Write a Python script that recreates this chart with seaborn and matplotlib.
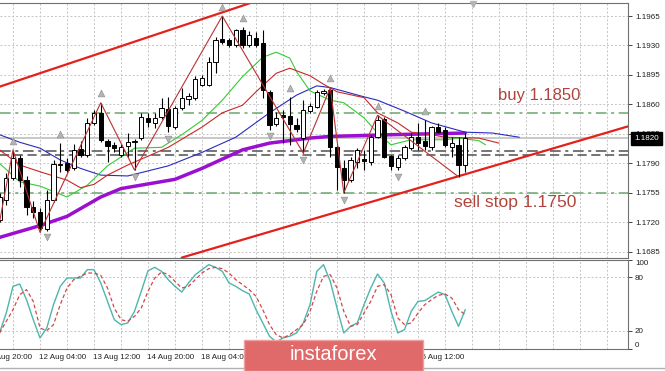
import matplotlib
matplotlib.use("Agg")
import matplotlib.pyplot as plt
import matplotlib.transforms as mtransforms
from matplotlib.patches import Rectangle
import numpy as np
import pandas as pd
import seaborn as sns

# H4 bars, index 0 = 10 Aug 20:00
bars = list(range(2, 72))
opens = [1.1723, 1.1746, 1.1772, 1.1796, 1.1770, 1.1738, 1.1732, 1.1712, 1.1746, 1.1788,
         1.1790, 1.1784, 1.1807, 1.1800, 1.1838, 1.1850, 1.1817, 1.1812, 1.1800, 1.1811,
         1.1815, 1.1820, 1.1844, 1.1838, 1.1845, 1.1855, 1.1833, 1.1856, 1.1866, 1.1868,
         1.1883, 1.1883, 1.1910, 1.1938, 1.1937, 1.1931, 1.1948, 1.1931, 1.1939, 1.1933,
         1.1875, 1.1837, 1.1847, 1.1846, 1.1836, 1.1820, 1.1852, 1.1857, 1.1874, 1.1877,
         1.1809, 1.1784, 1.1770, 1.1792, 1.1795, 1.1792, 1.1821, 1.1843, 1.1799, 1.1786,
         1.1796, 1.1808, 1.1821, 1.1817, 1.1809, 1.1833, 1.1830, 1.1809, 1.1812, 1.1788]
highs = [1.1755, 1.1779, 1.1806, 1.1800, 1.1775, 1.1745, 1.1737, 1.1758, 1.1794, 1.1814,
         1.1796, 1.1813, 1.1817, 1.1844, 1.1853, 1.1862, 1.1819, 1.1815, 1.1813, 1.1826,
         1.1819, 1.1850, 1.1850, 1.1850, 1.1868, 1.1869, 1.1858, 1.1880, 1.1874, 1.1894,
         1.1895, 1.1916, 1.1940, 1.1965, 1.1939, 1.1950, 1.1952, 1.1947, 1.1946, 1.1948,
         1.1877, 1.1851, 1.1853, 1.1869, 1.1844, 1.1865, 1.1862, 1.1877, 1.1878, 1.1880,
         1.1812, 1.1794, 1.1798, 1.1808, 1.1806, 1.1824, 1.1847, 1.1845, 1.1800, 1.1800,
         1.1812, 1.1826, 1.1838, 1.1841, 1.1834, 1.1838, 1.1833, 1.1821, 1.1821, 1.1826]
lows = [1.1720, 1.1740, 1.1770, 1.1762, 1.1729, 1.1725, 1.1708, 1.1710, 1.1744, 1.1780,
        1.1780, 1.1782, 1.1798, 1.1798, 1.1836, 1.1815, 1.1792, 1.1803, 1.1798, 1.1798,
        1.1782, 1.1818, 1.1833, 1.1832, 1.1843, 1.1827, 1.1831, 1.1853, 1.1859, 1.1865,
        1.1882, 1.1882, 1.1897, 1.1932, 1.1928, 1.1928, 1.1927, 1.1928, 1.1928, 1.1868,
        1.1830, 1.1834, 1.1814, 1.1812, 1.1827, 1.1802, 1.1850, 1.1856, 1.1871, 1.1798,
        1.1758, 1.1755, 1.1768, 1.1784, 1.1782, 1.1788, 1.1820, 1.1796, 1.1782, 1.1782,
        1.1794, 1.1806, 1.1806, 1.1806, 1.1806, 1.1826, 1.1809, 1.1798, 1.1774, 1.1780]
closes = [1.1750, 1.1773, 1.1796, 1.1770, 1.1738, 1.1732, 1.1713, 1.1746, 1.1789, 1.1789,
          1.1782, 1.1806, 1.1800, 1.1838, 1.1850, 1.1818, 1.1811, 1.1808, 1.1809, 1.1815,
          1.1817, 1.1845, 1.1839, 1.1844, 1.1856, 1.1834, 1.1856, 1.1868, 1.1870, 1.1890,
          1.1891, 1.1910, 1.1937, 1.1934, 1.1931, 1.1948, 1.1931, 1.1942, 1.1931, 1.1877,
          1.1836, 1.1844, 1.1845, 1.1837, 1.1831, 1.1853, 1.1858, 1.1875, 1.1876, 1.1809,
          1.1786, 1.1770, 1.1794, 1.1806, 1.1793, 1.1821, 1.1841, 1.1797, 1.1787, 1.1796,
          1.1809, 1.1821, 1.1814, 1.1811, 1.1833, 1.1827, 1.1812, 1.1814, 1.1788, 1.1820]

# moving averages (read at a few bars)
ma_purple_bars = [2, 8, 12, 17, 20, 28, 32, 38, 42, 48, 51, 60, 71]
ma_purple = [1.1702, 1.1716, 1.1727, 1.1750, 1.1760, 1.1771, 1.1784, 1.1806, 1.1814,
             1.1820, 1.1822, 1.1824, 1.1826]
ma_blue_bars = [2, 5, 8, 11, 14, 17, 21, 27, 32, 37, 42, 46, 49, 51, 56, 58, 62, 66, 71, 75, 79]
ma_blue = [1.1824, 1.1815, 1.1808, 1.1794, 1.1784, 1.1776, 1.1775, 1.1787, 1.1803, 1.1821,
           1.1850, 1.1871, 1.1882, 1.1880, 1.1869, 1.1865, 1.1852, 1.1838, 1.1827, 1.1826, 1.1821]
ma_green_bars = [2, 5, 8, 12, 15, 18, 22, 26, 29, 32, 35, 38, 41, 43, 45, 46, 48, 51, 53,
                 56, 58, 60, 63, 68, 70, 73, 74]
ma_green = [1.1790, 1.1768, 1.1763, 1.1750, 1.1764, 1.1787, 1.1808, 1.1809, 1.1824, 1.1841,
            1.1865, 1.1893, 1.1916, 1.1922, 1.1915, 1.1899, 1.1876, 1.1865, 1.1862, 1.1844,
            1.1826, 1.1812, 1.1818, 1.1818, 1.1820, 1.1817, 1.1812]
ma_red_bars = [2, 5, 8, 12, 14, 16, 18, 21, 25, 27, 32, 35, 38, 40, 43, 45, 48, 50, 52,
               56, 58, 61, 63, 66, 68, 73, 76]
ma_red = [1.1806, 1.1788, 1.1780, 1.1770, 1.1761, 1.1765, 1.1776, 1.1788, 1.1802, 1.1809,
          1.1833, 1.1850, 1.1859, 1.1875, 1.1897, 1.1903, 1.1894, 1.1884, 1.1875, 1.1868,
          1.1850, 1.1838, 1.1827, 1.1824, 1.1821, 1.1820, 1.1814]

# zigzag turning bars (L = low, H = high), fractals
zz_bars = [2, 4, 8, 17, 22, 35, 47, 51, 53, 58, 70]
zz_kind = ["L", "H", "L", "H", "L", "H", "L", "H", "L", "H", "L"]
fractal_up = [4, 11, 17, 35, 38, 45, 51, 58, 65]
fractal_dn = [9, 22, 27, 42, 47, 53, 61]

# channel trend lines
upper_line_bars = [2, 42]
upper_line_prices = [1.1881, 1.1988]
lower_line_bars = [29, 96]
lower_line_prices = [1.1678, 1.1836]

buy_level = 1.1850
sell_level = 1.1755
level_a = 1.1805
level_b = 1.1800
last_price = 1.1820

price_ticks = [1.1965, 1.1930, 1.1895, 1.1860, 1.1825, 1.1790, 1.1755, 1.1720, 1.1685]

# stochastic (%K and signal)
stoch_k = [17.5, 40, 70, 72.6, 55, 32.5, 11.9, 23.1, 49.4, 70, 79.4, 79.4, 79.4, 88.8, 88.8,
           73.8, 53.1, 32.5, 26.9, 28.8, 41.9, 64.4, 87.6, 91.4, 86.9, 77.5, 70, 63.6, 73.8,
           83.1, 88.8, 94.4, 91.4, 86.9, 73.8, 70, 65.1, 61.4, 43.8, 28.8, 13.8, 7.4, 11.9,
           13.8, 17.5, 28.8, 49.4, 86.9, 94.4, 75.6, 45.6, 17.5, 25, 28.8, 49.4, 68.1, 83.9,
           73.8, 41.9, 17.5, 21.3, 41.9, 53.1, 53.9, 58.8, 63.6, 60.6, 41.9, 25, 43.8]
stoch_d = [17.5, 30.6, 43.8, 60.6, 66.3, 53.1, 23.1, 20.1, 26.9, 49.4, 68.1, 77.5, 81.3, 85,
           85, 82.4, 68.1, 45.6, 32.5, 30.6, 36.3, 45.6, 64.4, 79.4, 86.1, 83.1, 75.6, 68.1,
           70, 77.5, 85, 89.9, 91.4, 89.9, 85, 77.5, 71.9, 66.3, 58.8, 43.8, 26.9, 15.6, 11.9,
           15.6, 21.3, 26.9, 41.9, 64.4, 81.3, 83.1, 68.1, 41.9, 25, 26.9, 40, 53.1, 70, 71.9,
           60.6, 34.4, 26.9, 28.8, 40, 49.4, 55, 59.9, 61.4, 56.9, 43.8, 38.1]

time_label_bars = [0, 8, 16, 24, 32, 40, 48, 56, 64]
time_labels = ["10 Aug 20:00", "12 Aug 04:00", "13 Aug 12:00", "14 Aug 20:00", "18 Aug 04:00",
               "19 Aug 12:00", "20 Aug 20:00", "24 Aug 04:00", "25 Aug 12:00"]

sns.set_style("white")
plt.rcParams["font.family"] = ["Liberation Sans", "DejaVu Sans"]

cd = pd.DataFrame({"bar": bars, "open": opens, "high": highs, "low": lows, "close": closes})

fig = plt.figure(figsize=(6.65, 3.71), dpi=100)
ax = fig.add_axes([0.0, 0.3054, 0.9444, 0.6873])
ax2 = fig.add_axes([0.0, 0.0606, 0.9444, 0.2394])

xlim = (2.074, 95.11)
ax.set_xlim(*xlim)
ax.set_ylim(1.16779, 1.19808)
ax2.set_xlim(*xlim)
ax2.set_ylim(0, 100)

grid_bars = np.arange(4, 96, 4)
grid_kw = dict(color="#c4c4c4", linestyle=(0, (2, 2)), linewidth=0.7)
for a in (ax, ax2):
    a.set_xticks(grid_bars)
    a.xaxis.grid(True, **grid_kw)
    a.yaxis.grid(True, **grid_kw)
    a.set_axisbelow(True)
    for side in ("top", "right", "bottom"):
        a.spines[side].set_color("#707070")
        a.spines[side].set_linewidth(0.8)
    a.spines["left"].set_visible(False)
    a.yaxis.tick_right()
    a.tick_params(axis="y", which="major", direction="out", length=3, width=0.7,
                  color="#404040", labelsize=5.8, labelcolor="#202020", pad=2)
    a.tick_params(axis="x", which="major", length=0, labelbottom=False)

ax.set_yticks(price_ticks)
ax.set_yticklabels([f"{p:.4f}" for p in price_ticks])
ax2.set_yticks([0, 20, 80, 100])
ax2.set_yticklabels(["0", "20", "80", "100"])
for lab in ax2.get_yticklabels():
    if lab.get_text() == "100":
        lab.set_va("top")
    elif lab.get_text() == "0":
        lab.set_va("bottom")

# horizontal levels
ax.axhline(buy_level, color="#6da66d", lw=1.1, ls=(0, (7, 3, 2, 3)), zorder=1)
ax.axhline(sell_level, color="#6da66d", lw=1.1, ls=(0, (7, 3, 2, 3)), zorder=1)
ax.axhline(level_a, color="#505050", lw=1.1, ls=(0, (7, 3, 2, 3)), zorder=1)
ax.axhline(level_b, color="#505050", lw=1.1, ls=(0, (6, 3)), zorder=1)
ax.axhline(last_price, color="#c8c8c8", lw=1.4, zorder=1)

# channel
ax.plot(upper_line_bars, upper_line_prices, color="#e3201b", lw=1.6, zorder=2)
ax.plot(lower_line_bars, lower_line_prices, color="#e3201b", lw=1.6, zorder=2)

# moving averages
sns.lineplot(x=ma_purple_bars, y=ma_purple, ax=ax, color="#9a0fd0", lw=2.5,
             estimator=None, sort=False, zorder=3)
sns.lineplot(x=ma_blue_bars, y=ma_blue, ax=ax, color="#2a2ac0", lw=0.8,
             estimator=None, sort=False, zorder=3)
sns.lineplot(x=ma_green_bars, y=ma_green, ax=ax, color="#33cc33", lw=0.8,
             estimator=None, sort=False, zorder=3)
sns.lineplot(x=ma_red_bars, y=ma_red, ax=ax, color="#c82828", lw=0.8,
             estimator=None, sort=False, zorder=3)

# candles
up = cd["close"] >= cd["open"]
ax.vlines(cd["bar"], cd["low"], cd["high"], color="black", lw=0.8, zorder=4)
body = (cd["close"] - cd["open"]).abs().clip(lower=0.00005)
ax.bar(cd["bar"], body, bottom=cd[["open", "close"]].min(axis=1), width=0.64,
       color=np.where(up, "white", "black"), edgecolor="black", linewidth=0.7, zorder=5)

# zigzag
hl = cd.set_index("bar")
zz_y = [hl.loc[b, "low"] if k == "L" else hl.loc[b, "high"] for b, k in zip(zz_bars, zz_kind)]
ax.plot(zz_bars, zz_y, color="#b83232", lw=0.8, zorder=6)

# fractal arrows
ax.scatter(fractal_up, [hl.loc[b, "high"] + 0.0011 for b in fractal_up], marker="^", s=24,
           color="#b4b4b4", edgecolor="#8c8c8c", linewidth=0.4, zorder=6)
ax.scatter(fractal_dn, [hl.loc[b, "low"] - 0.0008 for b in fractal_dn], marker="v", s=24,
           color="#b4b4b4", edgecolor="#8c8c8c", linewidth=0.4, zorder=6)
ax.plot(bars[-1] + 1.2, ax.get_ylim()[1] - 0.0001, marker="v", ms=5, color="#b4b4b4",
        clip_on=False, zorder=6)

# trade notes
ax.text(82.0, buy_level + 0.0020, "buy 1.1850", color="#b0443c", fontsize=12,
        ha="center", va="center")
ax.text(78.4, sell_level - 0.0012, "sell stop 1.1750", color="#b0443c", fontsize=12.6,
        ha="center", va="center")

# last price tag
trans = mtransforms.blended_transform_factory(ax.transAxes, ax.transData)
ax.text(1.0095, last_price, f"{last_price:.4f}", transform=trans, color="white", fontsize=5.8,
        ha="left", va="center", zorder=10, clip_on=False,
        bbox=dict(facecolor="black", edgecolor="black", pad=2.2))

# stochastic
sns.lineplot(x=bars, y=stoch_k, ax=ax2, color="#4db6ad", lw=1.0, estimator=None, sort=False)
sns.lineplot(x=bars, y=stoch_d, ax=ax2, color="#d24848", lw=0.9, estimator=None, sort=False,
             linestyle=(0, (3, 2)))
ax2.set_yticks([0, 20, 80, 100])
ax2.set_ylim(0, 100)
ax2.yaxis.grid(False)
for lvl in (20, 80):
    ax2.axhline(lvl, **grid_kw, zorder=0)

# time axis
ax2.set_xticks([b for b in time_label_bars if b > xlim[0]], minor=True)
ax2.tick_params(axis="x", which="minor", direction="out", length=2.5, width=0.7, color="#404040")
ax2.tick_params(axis="x", which="major", length=0)
ttrans = mtransforms.blended_transform_factory(ax2.transData, ax2.transAxes)
for b, lab in zip(time_label_bars, time_labels):
    ax2.text(b - 0.1, -0.105, lab, transform=ttrans, fontsize=5.8, color="#202020",
             ha="left", va="center", clip_on=False)

for a in (ax, ax2):
    a.set_xlabel("")
    a.set_ylabel("")

# window frame line and watermark
fig.add_artist(plt.Line2D([0, 1], [0.0081, 0.0081], transform=fig.transFigure,
                          color="#b0b0b0", lw=1.0))
fig.patches.append(Rectangle((0.367, 0.0), 0.2687, 0.0836, transform=fig.transFigure,
                             facecolor="#e06a6a", edgecolor="#eea0a0", lw=1.0, zorder=20))
fig.text(0.5013, 0.0445, "instaforex", color="white", fontsize=14.5, ha="center",
         va="center", zorder=21)

fig.savefig("out.png", dpi=100)
